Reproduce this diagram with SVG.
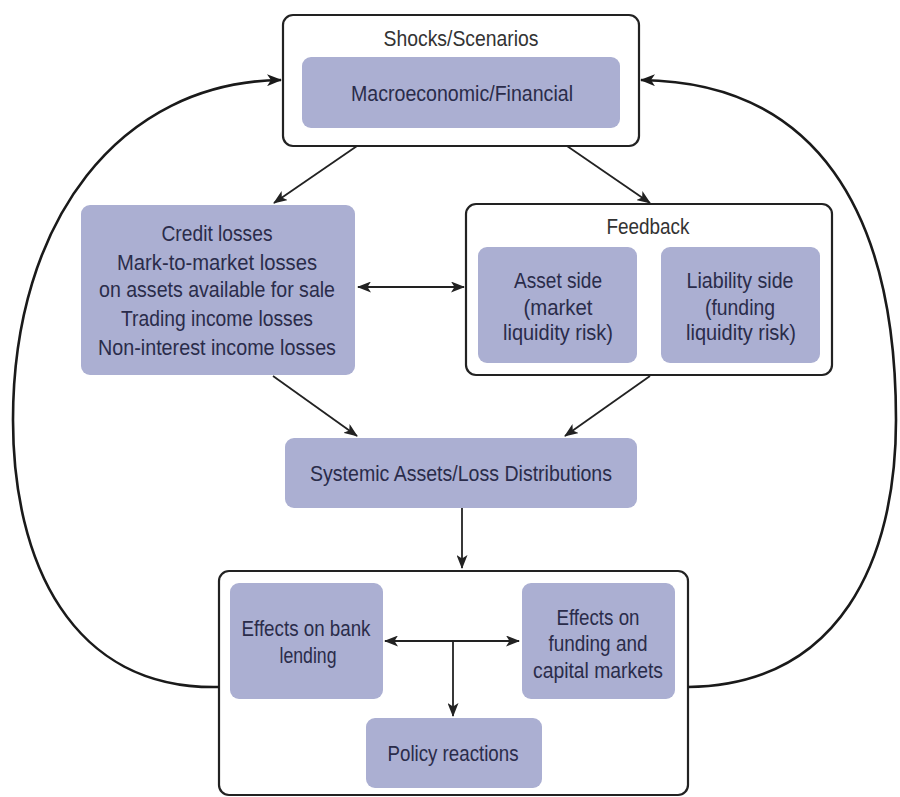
<svg xmlns="http://www.w3.org/2000/svg" width="900" height="797" viewBox="0 0 900 797">
  <style>
    .frame { fill: #ffffff; stroke: #222222; stroke-width: 2.2; }
    .box { fill: #abafd2; }
    .lbl { font-family: "Liberation Sans", Arial, sans-serif; font-size: 22px; fill: #2a2c4a; text-anchor: middle; }
    .ttl { font-family: "Liberation Sans", Arial, sans-serif; font-size: 22px; fill: #333333; text-anchor: middle; }
    .edge { fill: none; stroke: #222222; stroke-width: 1.8; }
    .loop { fill: none; stroke: #1a1a1a; stroke-width: 2.6; }
  </style>
  <defs>
    <marker id="arrow" viewBox="0 0 14 11" refX="13" refY="5.5" markerWidth="14" markerHeight="11" markerUnits="userSpaceOnUse" orient="auto-start-reverse">
      <path d="M0,0 L14,5.5 L0,11 L3.5,5.5 Z" fill="#222222"/>
    </marker>
    <marker id="arrowBig" viewBox="0 0 15 12" refX="14" refY="6" markerWidth="15" markerHeight="12" markerUnits="userSpaceOnUse" orient="auto">
      <path d="M0,0 L15,6 L0,12 L4,6 Z" fill="#1a1a1a"/>
    </marker>
  </defs>
  <rect width="900" height="797" fill="#ffffff"/>

  <!-- Shocks / scenarios -->
  <g id="shocks">
    <rect class="frame" x="283" y="15" width="356" height="131" rx="10"/>
    <text class="ttl" x="461" y="46" textLength="155" lengthAdjust="spacingAndGlyphs">Shocks/Scenarios</text>
    <rect class="box" x="302" y="57" width="318" height="71" rx="9"/>
    <text class="lbl" x="462" y="101" textLength="222" lengthAdjust="spacingAndGlyphs">Macroeconomic/Financial</text>
  </g>

  <!-- Losses -->
  <g id="losses">
    <rect class="box" x="81" y="205" width="274" height="170" rx="9"/>
    <text class="lbl" x="217" y="241" textLength="111" lengthAdjust="spacingAndGlyphs">Credit losses</text>
    <text class="lbl" x="217" y="270" textLength="200" lengthAdjust="spacingAndGlyphs">Mark-to-market losses</text>
    <text class="lbl" x="217" y="297" textLength="236" lengthAdjust="spacingAndGlyphs">on assets available for sale</text>
    <text class="lbl" x="217" y="326" textLength="192" lengthAdjust="spacingAndGlyphs">Trading income losses</text>
    <text class="lbl" x="217" y="355" textLength="238" lengthAdjust="spacingAndGlyphs">Non-interest income losses</text>
  </g>

  <!-- Feedback -->
  <g id="feedback">
    <rect class="frame" x="466" y="204" width="366" height="171" rx="10"/>
    <text class="ttl" x="648" y="234" textLength="83" lengthAdjust="spacingAndGlyphs">Feedback</text>
    <g id="asset-side">
      <rect class="box" x="478" y="247" width="159" height="116" rx="9"/>
      <text class="lbl" x="558" y="288" textLength="88" lengthAdjust="spacingAndGlyphs">Asset side</text>
      <text class="lbl" x="558" y="315" textLength="69" lengthAdjust="spacingAndGlyphs">(market</text>
      <text class="lbl" x="558" y="340" textLength="110" lengthAdjust="spacingAndGlyphs">liquidity risk)</text>
    </g>
    <g id="liability-side">
      <rect class="box" x="661" y="247" width="159" height="116" rx="9"/>
      <text class="lbl" x="740" y="288" textLength="107" lengthAdjust="spacingAndGlyphs">Liability side</text>
      <text class="lbl" x="740" y="315" textLength="70" lengthAdjust="spacingAndGlyphs">(funding</text>
      <text class="lbl" x="741" y="340" textLength="110" lengthAdjust="spacingAndGlyphs">liquidity risk)</text>
    </g>
  </g>

  <!-- Systemic distributions -->
  <g id="systemic">
    <rect class="box" x="285" y="438" width="352" height="70" rx="9"/>
    <text class="lbl" x="461" y="481" textLength="302" lengthAdjust="spacingAndGlyphs">Systemic Assets/Loss Distributions</text>
  </g>

  <!-- Effects -->
  <g id="effects">
    <rect class="frame" x="219" y="571" width="469" height="224" rx="10"/>
    <g id="bank-lending">
      <rect class="box" x="230" y="583" width="153" height="116" rx="9"/>
      <text class="lbl" x="306" y="636" textLength="129" lengthAdjust="spacingAndGlyphs">Effects on bank</text>
      <text class="lbl" x="308" y="663" textLength="57" lengthAdjust="spacingAndGlyphs">lending</text>
    </g>
    <g id="funding-markets">
      <rect class="box" x="522" y="583" width="153" height="116" rx="9"/>
      <text class="lbl" x="598" y="625" textLength="83" lengthAdjust="spacingAndGlyphs">Effects on</text>
      <text class="lbl" x="598" y="651" textLength="99" lengthAdjust="spacingAndGlyphs">funding and</text>
      <text class="lbl" x="598" y="678" textLength="130" lengthAdjust="spacingAndGlyphs">capital markets</text>
    </g>
    <g id="policy">
      <rect class="box" x="366" y="718" width="176" height="70" rx="9"/>
      <text class="lbl" x="453" y="761" textLength="131" lengthAdjust="spacingAndGlyphs">Policy reactions</text>
    </g>
  </g>

  <!-- Connectors -->
  <g id="connectors">
    <line class="edge" x1="357" y1="146" x2="274" y2="203" marker-end="url(#arrow)"/>
    <line class="edge" x1="567" y1="146" x2="650" y2="203" marker-end="url(#arrow)"/>
    <line class="edge" x1="358" y1="287" x2="464" y2="287" marker-start="url(#arrow)" marker-end="url(#arrow)"/>
    <line class="edge" x1="273" y1="376" x2="357" y2="436" marker-end="url(#arrow)"/>
    <line class="edge" x1="650" y1="376" x2="565" y2="436" marker-end="url(#arrow)"/>
    <line class="edge" x1="462" y1="508" x2="462" y2="568" marker-end="url(#arrow)"/>
    <line class="edge" x1="385" y1="641" x2="519" y2="641" marker-start="url(#arrow)" marker-end="url(#arrow)"/>
    <line class="edge" x1="453" y1="641" x2="453" y2="716" marker-end="url(#arrow)"/>
    <path class="loop" d="M219,687 C70,690 13,560 13,420 C13,220 120,82 281,80" marker-end="url(#arrowBig)"/>
    <path class="loop" d="M688,687 C840,685 896,560 896,420 C896,210 815,82 641,80" marker-end="url(#arrowBig)"/>
  </g>
</svg>
